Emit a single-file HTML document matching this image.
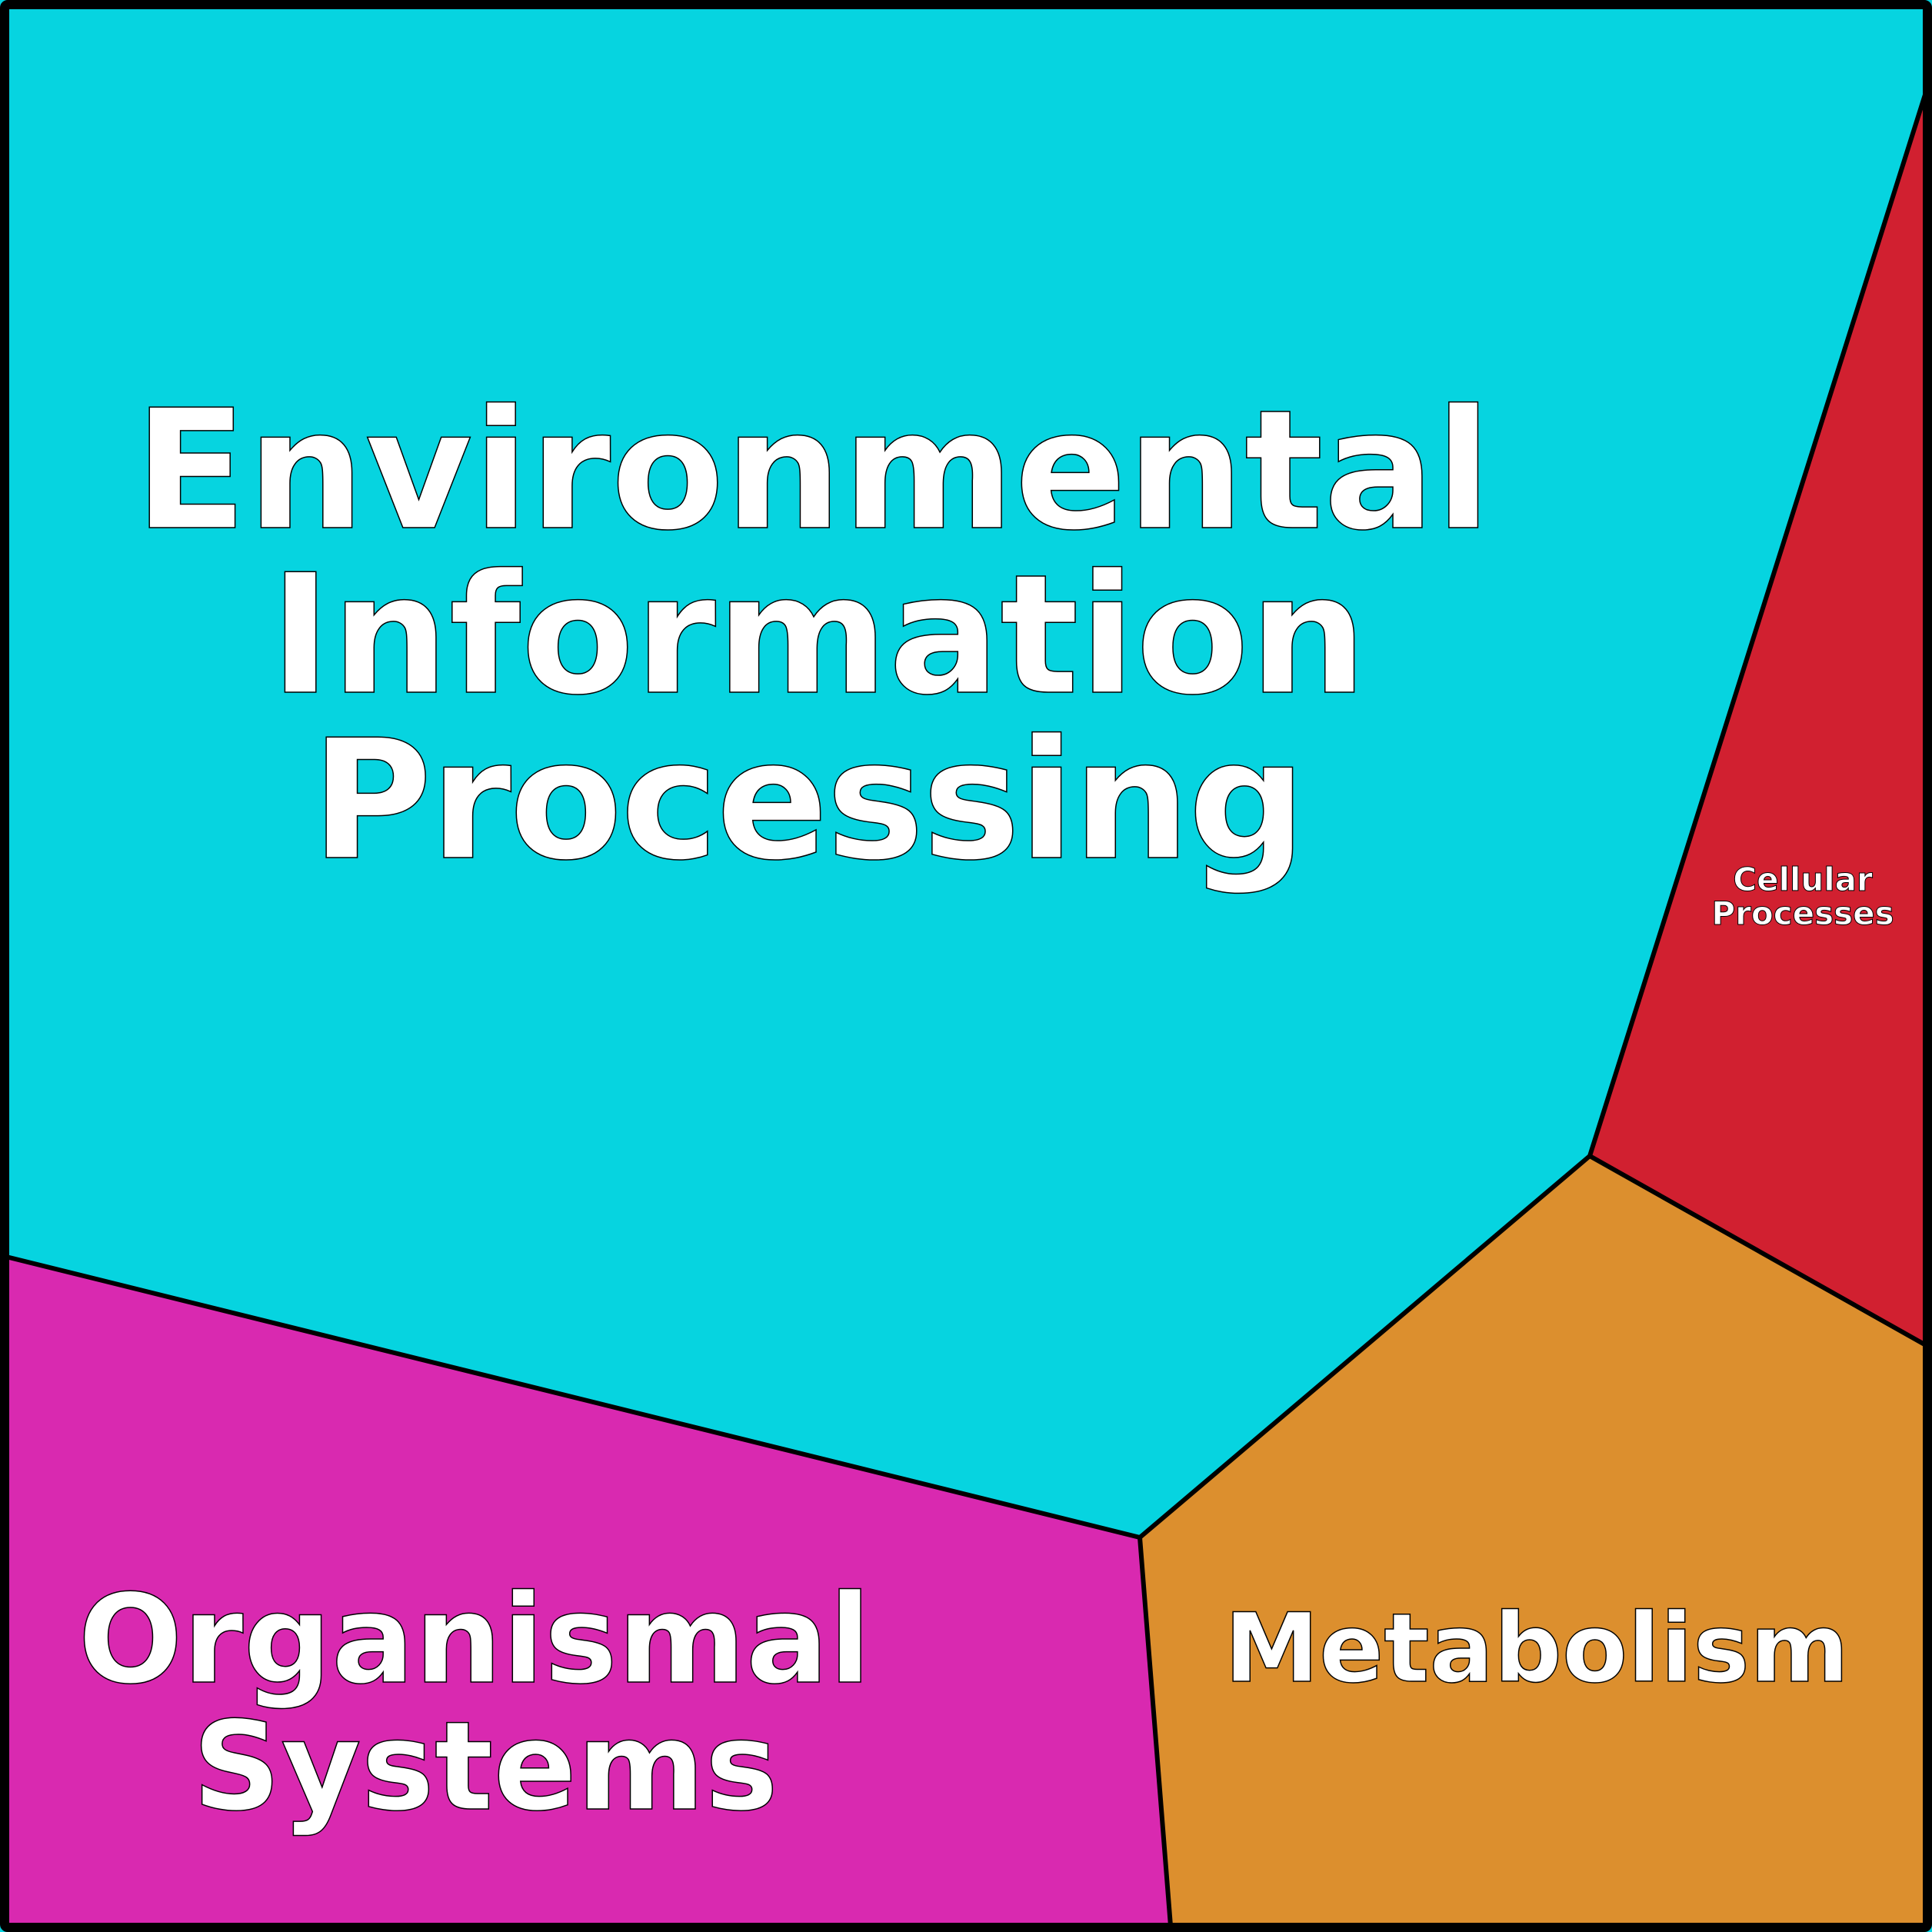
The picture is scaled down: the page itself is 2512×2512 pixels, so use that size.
<!DOCTYPE html>
<html><head><meta charset="utf-8"><style>html,body{margin:0;padding:0;background:#fff}svg{display:block}</style></head>
<body>
<svg xmlns="http://www.w3.org/2000/svg" width="2512" height="2512" viewBox="0 0 2512 2512">
<rect x="0" y="0" width="2512" height="2512" fill="#06d4e0"/>
<polygon points="2504,120 2504,1749 2067,1503" fill="#d12030"/>
<polygon points="2067,1503 2504,1749 2504,2504 1522,2504 1482,1999" fill="#dc8f2e"/>
<polygon points="8,1634 1482,1999 1522,2504 8,2504" fill="#d929b0"/>
<g fill="none" stroke="#000" stroke-width="6" stroke-linejoin="round">
<polyline points="2504,120 2067,1503 1482,1999 8,1634"/>
<line x1="2067" y1="1503" x2="2504" y2="1749"/>
<line x1="1482" y1="1999" x2="1522" y2="2504"/>
</g>
<rect x="6" y="6" width="2500" height="2500" fill="none" stroke="#000" stroke-width="12" rx="4"/>
<g font-family="'DejaVu Sans', 'Liberation Sans', sans-serif" font-weight="bold" fill="#fff" stroke="#000" stroke-width="1.5" text-anchor="middle">
<text x="1057" y="686" font-size="215">Environmental</text>
<text x="1064" y="900" font-size="215">Information</text>
<text x="1050" y="1115" font-size="215" letter-spacing="-3">Processing</text>
<text x="617" y="2187" font-size="160">Organismal</text>
<text x="631" y="2352" font-size="160">Systems</text>
<text x="1998" y="2186" font-size="124">Metabolism</text>
<text x="2344" y="1158" font-size="42" stroke-width="1">Cellular</text>
<text x="2344" y="1202" font-size="42" stroke-width="1">Processes</text>
</g>
</svg>
</body></html>
